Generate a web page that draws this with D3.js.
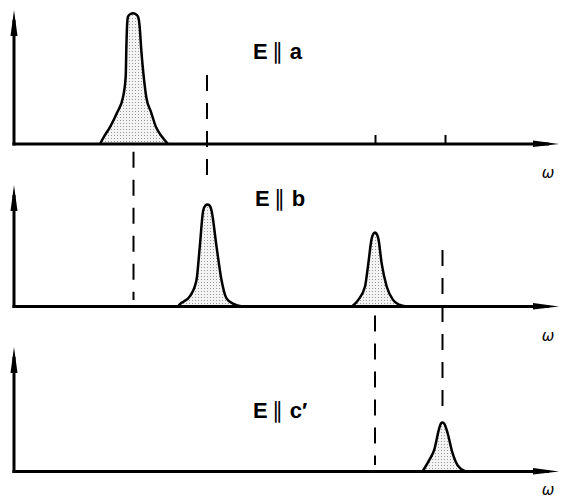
<!DOCTYPE html>
<html lang="en">
<head>
<meta charset="UTF-8" />
<title>E∥a, E∥b, E∥c′ spectra</title>
<script src="https://d3js.org/d3.v7.min.js"></script>
<style>
  body { margin: 0; background: #fff; }
  svg { display: block; background: #fff; }
  .pol { font-family: "Liberation Sans", Arial, sans-serif; font-size: 22px; fill: #000; }
  .omega { font-family: "DejaVu Sans", sans-serif; font-size: 15px; font-style: italic; fill: #000; }
</style>
</head>
<body>

<svg width="563" height="499"></svg>

<script>
  // Frequency axis (arbitrary units) and panel labels
  const omegaMax = 109;
  const polarisations = ["a", "b", "c′"];
  const axisTop = [1.03, 0.935, 0.958];   // height of the intensity arrow, per panel
  const ticksA = [72.2, 86.2];             // small marks on the first axis

  // Peaks: [omega, intensity]
  const peakA = [
    [17.2, 0], [18.0, 0.056], [19.2, 0.13], [20.6, 0.24], [21.8, 0.36],
    [22.34, 0.52], [22.46, 0.72], [22.6, 0.90], [22.8, 0.98], [23.3, 1.0],
    [23.8, 1.005], [24.3, 1.0], [24.8, 0.98], [25.14, 0.90], [25.46, 0.72],
    [25.94, 0.52], [26.46, 0.36], [27.46, 0.24], [28.4, 0.13], [29.6, 0.056], [30.8, 0]
  ];
  const peakB1 = [
    [32.8, 0], [33.16, 0.016], [35.16, 0.078], [36.5, 0.204], [37.16, 0.463],
    [37.84, 0.738], [38.3, 0.777], [38.7, 0.785], [39.1, 0.777], [39.5, 0.738],
    [40.5, 0.463], [41.5, 0.204], [42.5, 0.063], [43.9, 0.02], [45.7, 0]
  ];
  const peakB2 = [
    [67.6, 0], [68.86, 0.051], [70.2, 0.154], [70.86, 0.33], [71.54, 0.524],
    [71.9, 0.56], [72.2, 0.57], [72.5, 0.56], [72.86, 0.524], [73.54, 0.33],
    [74.54, 0.154], [75.8, 0.051], [77.0, 0.015], [78.54, 0]
  ];
  const peakC = [
    [81.7, 0], [83.04, 0.087], [84.04, 0.166], [85.04, 0.332], [85.4, 0.37],
    [85.7, 0.377], [86.1, 0.365], [86.7, 0.298], [87.7, 0.143], [88.7, 0.049], [90.3, 0]
  ];
  const peaksByPanel = [[peakA], [peakB1, peakB2], [peakC]];

  // Dashed guides: omega, start [panel, intensity], end [panel, intensity]
  const guides = [
    { omega: 23.9, from: [0, -0.06], to: [1, 0.05] },
    { omega: 38.6, from: [0, 0.53], to: [1, 0.927] },
    { omega: 72.2, from: [1, -0.07], to: [2, 0.05] },
    { omega: 85.7, from: [1, 0.435], to: [2, 0.45] }
  ];

  const svg = d3.select("svg");
  const baselines = [144, 306.5, 471.5];
  const unit = 130;

  const x = d3.scaleLinear().domain([0, 108]).range([14, 554]);
  const ys = baselines.map(b => d3.scaleLinear().domain([0, 1]).range([b, b - unit]));

  // stipple fill
  const defs = svg.append("defs");
  const pat = defs.append("pattern")
    .attr("id", "dots")
    .attr("patternUnits", "userSpaceOnUse")
    .attr("width", 3).attr("height", 3);
  pat.append("rect").attr("width", 3).attr("height", 3).attr("fill", "#f4f4f4");
  pat.append("rect").attr("width", 1).attr("height", 1).attr("fill", "#9a9a9a");

  // guides first, under everything
  guides.forEach(gd => {
    svg.append("line")
      .attr("x1", x(gd.omega)).attr("x2", x(gd.omega))
      .attr("y1", ys[gd.from[0]](gd.from[1]))
      .attr("y2", ys[gd.to[0]](gd.to[1]))
      .attr("stroke", "#000")
      .attr("stroke-width", 2)
      .attr("stroke-dasharray", "16,12");
  });

  polarisations.forEach((pol, i) => {
    const y = ys[i];
    const g = svg.append("g");

    const area = d3.area()
      .x(d => x(d[0])).y0(y(0)).y1(d => y(d[1]))
      .curve(d3.curveMonotoneX);
    const line = d3.line()
      .x(d => x(d[0])).y(d => y(d[1]))
      .curve(d3.curveMonotoneX);

    peaksByPanel[i].forEach(pk => {
      g.append("path").attr("d", area(pk)).attr("fill", "url(#dots)");
      g.append("path").attr("d", line(pk))
        .attr("fill", "none").attr("stroke", "#000")
        .attr("stroke-width", 2.5).attr("stroke-linejoin", "round");
    });

    // intensity axis with arrow
    const yTip = y(axisTop[i]);
    g.append("line")
      .attr("x1", x(0)).attr("x2", x(0))
      .attr("y1", y(0) + 1.5).attr("y2", yTip + 10)
      .attr("stroke", "#000").attr("stroke-width", 3);
    g.append("path")
      .attr("d", `M${x(0)},${yTip} L${x(0) + 3.5},${yTip + 26} L${x(0) - 3.5},${yTip + 26} Z`)
      .attr("fill", "#000");

    // frequency axis with arrow
    const xTip = x(omegaMax);
    g.append("line")
      .attr("x1", x(0) - 1.5).attr("x2", xTip - 10)
      .attr("y1", y(0)).attr("y2", y(0))
      .attr("stroke", "#000").attr("stroke-width", 3);
    g.append("path")
      .attr("d", `M${xTip},${y(0)} L${xTip - 26},${y(0) - 3.5} L${xTip - 26},${y(0) + 3} Z`)
      .attr("fill", "#000");

    if (i === 0) {
      const ax = g.append("g")
        .attr("transform", `translate(0,${y(0)})`)
        .call(d3.axisTop(x).tickValues(ticksA).tickSize(9).tickFormat(""));
      ax.select(".domain").remove();
      ax.selectAll("line").attr("stroke-width", 2);
    }

    // label E ∥ pol
    const lbl = g.append("text").attr("class", "pol")
      .attr("x", [253, 255, 253][i])
      .attr("y", [59, 206, 418][i]);
    lbl.append("tspan").attr("font-weight", "bold").text("E");
    lbl.append("tspan").attr("dx", 4).text("∥");
    lbl.append("tspan").attr("dx", 7).attr("font-weight", "bold").text(pol);

    g.append("text").attr("class", "omega")
      .attr("x", 548).attr("y", [178, 341, 495][i])
      .attr("text-anchor", "middle")
      .text("ω");
  });
</script>

</body>
</html>
